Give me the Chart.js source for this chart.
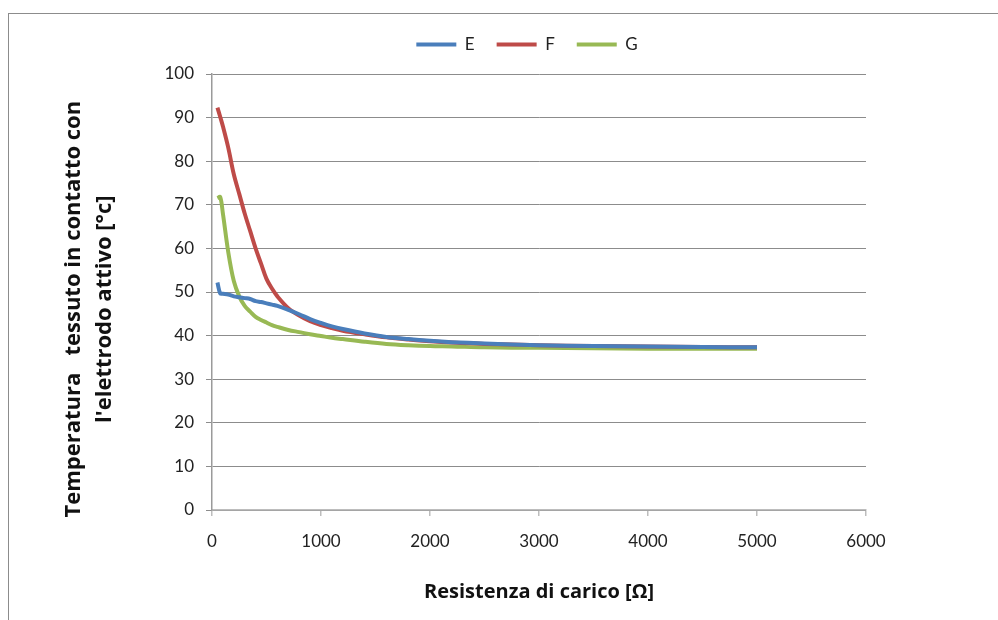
<!DOCTYPE html>
<html>
<head>
<meta charset="utf-8">
<script src="https://cdn.jsdelivr.net/npm/chart.js@4.4.0/dist/chart.umd.min.js"></script>
<style>
  body { margin: 0; background: #fff; }
  #frame { position: absolute; left: 8px; top: 13px; width: 1200px; height: 800px; border: 1px solid #8c8c8c; }
  #wrap { position: absolute; left: 0; top: 0; width: 998px; height: 620px; }
</style>
</head>
<body>
<div id="frame"></div>
<div id="wrap"><canvas id="chart" width="998" height="620"></canvas></div>
<script>
// resistenza di carico (ohm)
const resistenze = [50, 75, 100, 150, 200, 250, 300, 350, 400, 450, 500, 550, 600, 700, 800, 900,
    1000, 1100, 1200, 1400, 1600, 1800, 2000, 2200, 2500, 3000, 3500, 4000, 4500, 5000];

// temperature
const tempE = [52.2, 49.7, 49.6, 49.4, 49.0, 48.8, 48.6, 48.4, 47.9, 47.7, 47.4, 47.1, 46.8, 45.9, 44.9, 43.8,
    42.9, 42.1, 41.5, 40.5, 39.7, 39.2, 38.8, 38.5, 38.2, 37.8, 37.6, 37.5, 37.4, 37.3];
const tempF = [92.3, 90.2, 88.0, 83.0, 77.0, 72.5, 68.0, 64.0, 60.0, 56.5, 53.0, 50.8, 49.0, 46.3, 44.6, 43.3,
    42.4, 41.7, 41.1, 40.3, 39.6, 39.1, 38.7, 38.4, 38.1, 37.8, 37.6, 37.5, 37.4, 37.3];
const tempG = [71.5, 71.8, 68.0, 59.0, 52.5, 49.0, 46.8, 45.5, 44.3, 43.6, 43.0, 42.4, 42.0, 41.3, 40.8, 40.3,
    39.9, 39.5, 39.2, 38.6, 38.1, 37.8, 37.6, 37.5, 37.3, 37.2, 37.1, 37.0, 37.0, 37.0];

const serieNomi = ['E', 'F', 'G'];
const serieColori = ['#4a7ebb', '#be4b48', '#98b954'];
const xTicks = [0, 1000, 2000, 3000, 4000, 5000, 6000];
const yTicks = [0, 10, 20, 30, 40, 50, 60, 70, 80, 90, 100];

function toPoints(ys) {
    return resistenze.map((x, i) => ({x: x, y: ys[i]}));
}

const font = 'Lato, "Open Sans", sans-serif';
const boldFont = '"Open Sans", Lato, sans-serif';

// sposta la legenda dove sta nel grafico originale
const legendShift = {
    id: 'legendShift',
    afterLayout(chart) {
        const l = chart.legend;
        l.left = 184; l.right = 870;
        l.top -= 11; l.bottom -= 11;
    }
};

const data = {
    datasets: [tempE, tempF, tempG].map((ys, i) => ({
        label: serieNomi[i],
        data: toPoints(ys),
        borderColor: serieColori[i],
        backgroundColor: serieColori[i],
        borderWidth: 4,
        pointRadius: 0,
        tension: 0.35,
        fill: false
    }))
};

const config = {
    type: 'line',
    data: data,
    options: {
        responsive: false,
        animation: false,
        devicePixelRatio: 1,
        layout: { padding: { left: 0, right: 132, top: 25, bottom: 0 } },
        plugins: {
            tooltip: { enabled: false },
            legend: {
                position: 'top',
                labels: {
                    boxWidth: 40,
                    boxHeight: 4,
                    padding: 22,
                    color: '#222',
                    font: { family: font, size: 17 },
                    generateLabels(chart) {
                        const items = Chart.defaults.plugins.legend.labels.generateLabels(chart);
                        items.forEach(it => { it.lineWidth = 0; });
                        return items;
                    }
                }
            }
        },
        scales: {
            x: {
                type: 'linear',
                min: 0, max: 6000,
                afterBuildTicks(scale) { scale.ticks = xTicks.map(v => ({value: v})); },
                afterFit(scale) { scale.height = 110; },
                border: { color: '#bdbdbd', width: 1.5 },
                grid: { drawOnChartArea: false, drawTicks: true, tickLength: 6, color: '#bdbdbd', lineWidth: 1.5 },
                ticks: {
                    color: '#222', font: { family: font, size: 17 }, padding: 15, maxRotation: 0,
                    callback: v => String(v)
                },
                title: {
                    display: true,
                    text: 'Resistenza di carico [Ω]',
                    color: '#111',
                    font: { family: boldFont, size: 20, weight: 'bold', lineHeight: 1.2 },
                    padding: { top: 0, bottom: 16 }
                }
            },
            y: {
                min: 0, max: 100,
                afterBuildTicks(scale) { scale.ticks = yTicks.map(v => ({value: v})); },
                afterFit(scale) { scale.width = 212; },
                border: { color: '#9a9a9a', width: 1.5 },
                grid: { color: '#8c8c8c', lineWidth: 1, tickLength: 6 },
                ticks: { color: '#222', font: { family: font, size: 17 }, padding: 12 },
                title: {
                    display: true,
                    // spazi finali: il titolo nell'originale sta un po' sotto il centro
                    text: ['Temperatura   tessuto in contatto con      ', "l'elettrodo attivo [°c]      "],
                    color: '#111',
                    font: { family: boldFont, size: 22, weight: 'bold', lineHeight: 1.38 },
                    padding: { top: 59, bottom: 0 }
                }
            }
        }
    },
    plugins: [legendShift]
};

let ctx = document.getElementById('chart').getContext('2d');
new Chart(ctx, config);
</script>
</body>
</html>
